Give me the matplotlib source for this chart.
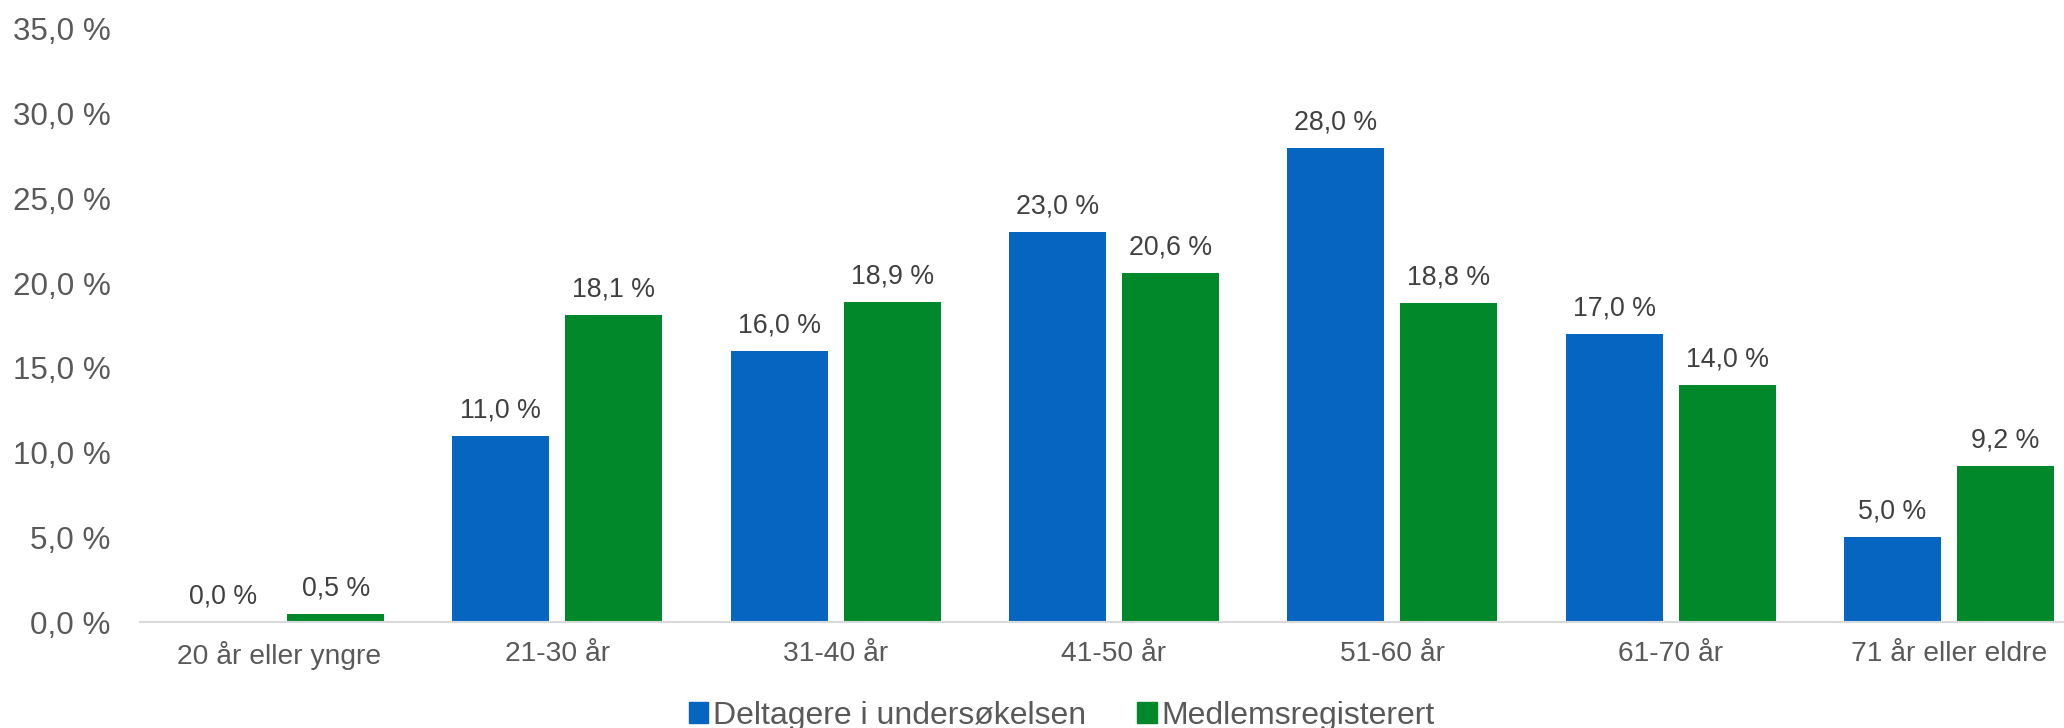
import matplotlib
matplotlib.use("Agg")
import matplotlib.pyplot as plt
from matplotlib.patches import Patch
import numpy as np

categories = ["20 år eller yngre", "21-30 år", "31-40 år", "41-50 år",
              "51-60 år", "61-70 år", "71 år eller eldre"]
deltagere = [0.0, 11.0, 16.0, 23.0, 28.0, 17.0, 5.0]
medlems = [0.5, 18.1, 18.9, 20.6, 18.8, 14.0, 9.2]
series_names = ["Deltagere i undersøkelsen", "Medlemsregisterert"]
yticks = [0, 5, 10, 15, 20, 25, 30, 35]

blue = "#0565C0"
green = "#00882B"

plt.rcParams['font.family'] = ['Liberation Sans', 'DejaVu Sans']

fig = plt.figure(figsize=(20.64, 7.28), dpi=100)
ax = fig.add_axes([140/2064, 106/728, 1948/2064, 593/728])

x = np.arange(len(categories))
bw = 0.349
off = 0.203
b1 = ax.bar(x - off, deltagere, bw, color=blue, label=series_names[0])
b2 = ax.bar(x + off, medlems, bw, color=green, label=series_names[1])

def fmt(v):
    return f"{v:.1f}".replace(".", ",") + " %"

for bars, vals in ((b1, deltagere), (b2, medlems)):
    for rect, v in zip(bars, vals):
        ax.annotate(fmt(v), (rect.get_x() + rect.get_width()/2, v),
                    xytext=(0, 9), textcoords="offset points",
                    ha="center", va="bottom", fontsize=19.3, color="#404040")

ax.set_xlim(-0.5, len(categories) - 0.5)
ax.set_ylim(0, 35)
ax.set_yticks(yticks)
ax.set_yticklabels([fmt(v) for v in yticks])
ax.set_xticks(x)
ax.set_xticklabels(categories)
ax.tick_params(axis="y", length=0, pad=21, labelsize=22.6, labelcolor="#595959")
ax.tick_params(axis="x", length=0, pad=14, labelsize=20.3, labelcolor="#595959")

for s in ["top", "right", "left"]:
    ax.spines[s].set_visible(False)
ax.spines["bottom"].set_color("#D9D9D9")
ax.spines["bottom"].set_linewidth(1.5)

handles = [Patch(color=blue), Patch(color=green)]
fig.legend(handles, series_names, loc="center", bbox_to_anchor=(0.5145, 0.017),
           ncol=2, frameon=False, fontsize=23, labelcolor="#595959",
           handlelength=0.6, handleheight=0.6, handletextpad=0.15,
           columnspacing=1.6, borderaxespad=0)

fig.savefig("out.png", dpi=100)
